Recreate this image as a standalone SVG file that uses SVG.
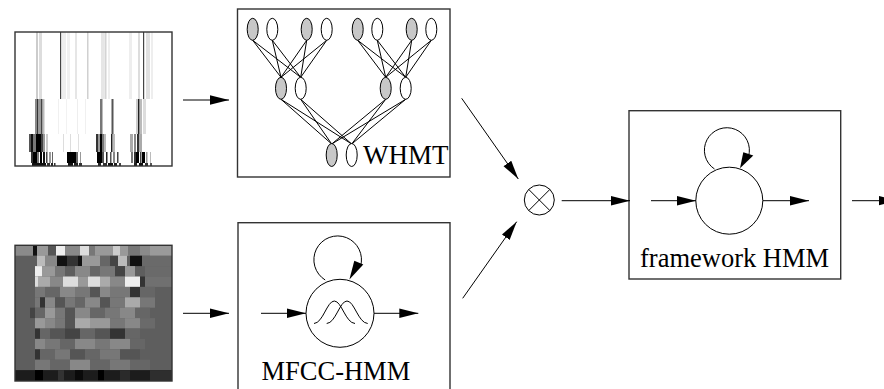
<svg xmlns="http://www.w3.org/2000/svg" width="884" height="389" viewBox="0 0 884 389">
<style>
.box{fill:none;stroke:#333;stroke-width:1.4}
.ln{fill:none;stroke:#000;stroke-width:1}
.arr{fill:none;stroke:#000;stroke-width:1;marker-end:url(#ah)}
.en{fill:#fff;stroke:#000;stroke-width:1}
.eg{fill:#c8c8c8;stroke:#000;stroke-width:1}
.lbl{font-family:"Liberation Serif","Times New Roman",serif;font-size:26.5px;fill:#000}
</style>
<defs>
<marker id="ah" markerUnits="userSpaceOnUse" markerWidth="20" markerHeight="10" refX="19" refY="5" orient="auto">
<path d="M0,0.3 L19,5 L0,9.7 z" fill="#000"/>
</marker>
</defs>
<rect width="884" height="389" fill="#fff"/>

<g id="wavelet-image">
<rect x="15" y="32" width="157" height="134" fill="#fff"/>
<g>
<rect x="36" y="32" width="2" height="67" fill="#ccc"/>
<rect x="39" y="32" width="3" height="67" fill="#ddd"/>
<rect x="60" y="32" width="1.2" height="67" fill="#444"/>
<rect x="62" y="32" width="4" height="67" fill="#eee"/>
<rect x="67" y="32" width="3" height="67" fill="#f0f0f0"/>
<rect x="75" y="32" width="2" height="67" fill="#e6e6e6"/>
<rect x="87" y="32" width="1.5" height="67" fill="#d0d0d0"/>
<rect x="101" y="32" width="3" height="67" fill="#e6e6e6"/>
<rect x="104.5" y="32" width="2" height="67" fill="#d4d4d4"/>
<rect x="108" y="32" width="2" height="67" fill="#eee"/>
<rect x="129" y="32" width="3" height="67" fill="#eee"/>
<rect x="138" y="32" width="2" height="67" fill="#ddd"/>
<rect x="143" y="32" width="1.2" height="72" fill="#444"/>
<rect x="146" y="32" width="4" height="67" fill="#e0e0e0"/>
<rect x="151" y="32" width="2" height="67" fill="#eee"/>
</g>
<g>
<rect x="35" y="99" width="2" height="35" fill="#888"/>
<rect x="37" y="99" width="1.5" height="35" fill="#333"/>
<rect x="39" y="99" width="2" height="35" fill="#999"/>
<rect x="41" y="99" width="1.5" height="35" fill="#444"/>
<rect x="43" y="99" width="1.5" height="35" fill="#bbb"/>
<rect x="58" y="99" width="1" height="35" fill="#f0f0f0"/>
<rect x="66" y="99" width="1" height="35" fill="#f2f2f2"/>
<rect x="77" y="99" width="1" height="35" fill="#eee"/>
<rect x="85" y="99" width="1" height="35" fill="#f0f0f0"/>
<rect x="100" y="99" width="2" height="35" fill="#777"/>
<rect x="102" y="99" width="1" height="35" fill="#bbb"/>
<rect x="111.5" y="99" width="1.5" height="35" fill="#555"/>
<rect x="113" y="99" width="1" height="35" fill="#aaa"/>
<rect x="136" y="99" width="2" height="35" fill="#ccc"/>
<rect x="138" y="99" width="1.5" height="35" fill="#222"/>
<rect x="140" y="99" width="2" height="35" fill="#bbb"/>
<rect x="143" y="99" width="3" height="35" fill="#ddd"/>
</g>
<g>
<rect x="29" y="134" width="2" height="18" fill="#555"/>
<rect x="31" y="134" width="2" height="18" fill="#111"/>
<rect x="33" y="134" width="3" height="18" fill="#777"/>
<rect x="36" y="134" width="5" height="18" fill="#000"/>
<rect x="41" y="134" width="2" height="18" fill="#444"/>
<rect x="43" y="134" width="2" height="18" fill="#999"/>
<rect x="46" y="134" width="2" height="18" fill="#ccc"/>
<rect x="63" y="134" width="1" height="18" fill="#ddd"/>
<rect x="70" y="134" width="1" height="18" fill="#ddd"/>
<rect x="78" y="134" width="1" height="18" fill="#e0e0e0"/>
<rect x="96" y="134" width="2" height="18" fill="#333"/>
<rect x="98" y="134" width="2" height="18" fill="#999"/>
<rect x="100" y="134" width="2" height="18" fill="#000"/>
<rect x="102" y="134" width="2" height="18" fill="#777"/>
<rect x="104" y="134" width="2" height="18" fill="#bbb"/>
<rect x="111" y="134" width="1.5" height="18" fill="#222"/>
<rect x="113" y="134" width="2" height="18" fill="#bbb"/>
<rect x="130" y="134" width="3" height="18" fill="#aaa"/>
<rect x="134" y="134" width="2" height="18" fill="#888"/>
<rect x="137" y="134" width="2" height="18" fill="#333"/>
<rect x="139" y="134" width="3" height="18" fill="#aaa"/>
</g>
<g>
<rect x="31" y="152" width="2" height="11" fill="#333"/>
<rect x="33" y="152" width="4" height="11" fill="#000"/>
<rect x="37" y="152" width="2" height="11" fill="#777"/>
<rect x="40" y="152" width="2" height="11" fill="#000"/>
<rect x="43" y="152" width="2" height="11" fill="#111"/>
<rect x="46" y="152" width="1.5" height="11" fill="#444"/>
<rect x="49" y="152" width="2" height="11" fill="#999"/>
<rect x="52" y="152" width="1" height="11" fill="#666"/>
<rect x="67" y="152" width="9" height="11" fill="#000"/>
<rect x="76" y="152" width="2" height="11" fill="#666"/>
<rect x="80" y="152" width="1" height="11" fill="#999"/>
<rect x="97" y="152" width="5" height="11" fill="#000"/>
<rect x="102" y="152" width="2" height="11" fill="#555"/>
<rect x="106" y="152" width="1.5" height="11" fill="#222"/>
<rect x="110" y="152" width="1.5" height="11" fill="#555"/>
<rect x="113" y="152" width="2" height="11" fill="#888"/>
<rect x="117" y="152" width="1.5" height="11" fill="#444"/>
<rect x="131" y="152" width="2" height="11" fill="#777"/>
<rect x="134" y="152" width="2" height="11" fill="#333"/>
<rect x="136" y="152" width="3" height="11" fill="#000"/>
<rect x="140" y="152" width="1.5" height="11" fill="#444"/>
<rect x="142" y="152" width="3" height="11" fill="#000"/>
<rect x="146" y="152" width="1.5" height="11" fill="#999"/>
<rect x="150" y="152" width="1" height="11" fill="#bbb"/>
</g>
<g>
<rect x="32" y="163" width="14" height="3" fill="#111"/>
<rect x="47" y="163" width="3" height="3" fill="#333"/>
<rect x="51" y="163" width="2" height="3" fill="#222"/>
<rect x="54" y="163" width="1.5" height="3" fill="#333"/>
<rect x="68" y="163" width="5" height="3" fill="#111"/>
<rect x="74" y="163" width="4" height="3" fill="#222"/>
<rect x="79" y="163" width="3" height="3" fill="#333"/>
<rect x="98" y="163" width="3" height="3" fill="#222"/>
<rect x="103" y="163" width="4" height="3" fill="#333"/>
<rect x="108" y="163" width="5" height="3" fill="#111"/>
<rect x="114" y="163" width="3" height="3" fill="#222"/>
<rect x="119" y="163" width="2" height="3" fill="#444"/>
<rect x="134" y="163" width="3" height="3" fill="#222"/>
<rect x="139" y="163" width="4" height="3" fill="#111"/>
<rect x="145" y="163" width="3" height="3" fill="#333"/>
<rect x="150" y="163" width="2" height="3" fill="#555"/>
</g>
<rect x="15" y="32" width="157" height="134" class="box"/>
</g>

<g id="mfcc-image">
<rect x="15" y="245.3" width="157" height="135.7" fill="#5e5e5e"/>
<g>
<rect x="15" y="245.3" width="157" height="10.4" fill="#8a8a8a"/>
<rect x="33" y="245.3" width="4" height="10.4" fill="#111"/>
<rect x="37" y="245.3" width="11" height="10.4" fill="#999"/>
<rect x="48" y="245.3" width="8" height="10.4" fill="#555"/>
<rect x="56" y="245.3" width="9" height="10.4" fill="#eee"/>
<rect x="65" y="245.3" width="15" height="10.4" fill="#888"/>
<rect x="80" y="245.3" width="9" height="10.4" fill="#ddd"/>
<rect x="89" y="245.3" width="6" height="10.4" fill="#777"/>
<rect x="95" y="245.3" width="18" height="10.4" fill="#999"/>
<rect x="113" y="245.3" width="7" height="10.4" fill="#ccc"/>
<rect x="120" y="245.3" width="8" height="10.4" fill="#999"/>
<rect x="128" y="245.3" width="12" height="10.4" fill="#777"/>
<rect x="150" y="245.3" width="22" height="10.4" fill="#9a9a9a"/>
</g>
<g>
<rect x="37" y="255.7" width="8" height="10.4" fill="#bbb"/>
<rect x="45" y="255.7" width="12" height="10.4" fill="#888"/>
<rect x="57" y="255.7" width="10" height="10.4" fill="#111"/>
<rect x="67" y="255.7" width="11" height="10.4" fill="#333"/>
<rect x="78" y="255.7" width="4" height="10.4" fill="#111"/>
<rect x="82" y="255.7" width="18" height="10.4" fill="#999"/>
<rect x="100" y="255.7" width="10" height="10.4" fill="#666"/>
<rect x="110" y="255.7" width="8" height="10.4" fill="#444"/>
<rect x="118" y="255.7" width="9" height="10.4" fill="#bbb"/>
<rect x="130" y="255.7" width="12" height="10.4" fill="#111"/>
<rect x="142" y="255.7" width="30" height="10.4" fill="#6a6a6a"/>
</g>
<g>
<rect x="35" y="266.1" width="7" height="10.4" fill="#eee"/>
<rect x="42" y="266.1" width="13" height="10.4" fill="#999"/>
<rect x="55" y="266.1" width="10" height="10.4" fill="#777"/>
<rect x="75" y="266.1" width="15" height="10.4" fill="#888"/>
<rect x="90" y="266.1" width="10" height="10.4" fill="#666"/>
<rect x="100" y="266.1" width="15" height="10.4" fill="#777"/>
<rect x="115" y="266.1" width="10" height="10.4" fill="#444"/>
<rect x="125" y="266.1" width="10" height="10.4" fill="#999"/>
<rect x="145" y="266.1" width="27" height="10.4" fill="#6a6a6a"/>
</g>
<g>
<rect x="35" y="276.5" width="3" height="10.4" fill="#ddd"/>
<rect x="38" y="276.5" width="12" height="10.4" fill="#aaa"/>
<rect x="50" y="276.5" width="13" height="10.4" fill="#888"/>
<rect x="63" y="276.5" width="15" height="10.4" fill="#ddd"/>
<rect x="78" y="276.5" width="10" height="10.4" fill="#999"/>
<rect x="88" y="276.5" width="12" height="10.4" fill="#ddd"/>
<rect x="100" y="276.5" width="10" height="10.4" fill="#aaa"/>
<rect x="110" y="276.5" width="15" height="10.4" fill="#888"/>
<rect x="125" y="276.5" width="15" height="10.4" fill="#eee"/>
<rect x="140" y="276.5" width="5" height="10.4" fill="#333"/>
<rect x="145" y="276.5" width="27" height="10.4" fill="#707070"/>
</g>
<g>
<rect x="35" y="286.9" width="10" height="10.4" fill="#777"/>
<rect x="45" y="286.9" width="15" height="10.4" fill="#666"/>
<rect x="60" y="286.9" width="15" height="10.4" fill="#888"/>
<rect x="75" y="286.9" width="15" height="10.4" fill="#777"/>
<rect x="90" y="286.9" width="10" height="10.4" fill="#555"/>
<rect x="100" y="286.9" width="10" height="10.4" fill="#888"/>
<rect x="110" y="286.9" width="20" height="10.4" fill="#777"/>
<rect x="130" y="286.9" width="10" height="10.4" fill="#333"/>
<rect x="140" y="286.9" width="15" height="10.4" fill="#666"/>
</g>
<g>
<rect x="35" y="297.3" width="5" height="10.4" fill="#777"/>
<rect x="40" y="297.3" width="5" height="10.4" fill="#333"/>
<rect x="45" y="297.3" width="10" height="10.4" fill="#888"/>
<rect x="55" y="297.3" width="10" height="10.4" fill="#555"/>
<rect x="65" y="297.3" width="10" height="10.4" fill="#777"/>
<rect x="75" y="297.3" width="10" height="10.4" fill="#666"/>
<rect x="85" y="297.3" width="15" height="10.4" fill="#888"/>
<rect x="100" y="297.3" width="10" height="10.4" fill="#555"/>
<rect x="110" y="297.3" width="15" height="10.4" fill="#777"/>
<rect x="125" y="297.3" width="15" height="10.4" fill="#aaa"/>
<rect x="140" y="297.3" width="15" height="10.4" fill="#777"/>
</g>
<g>
<rect x="30" y="307.7" width="5" height="10.4" fill="#444"/>
<rect x="35" y="307.7" width="10" height="10.4" fill="#666"/>
<rect x="45" y="307.7" width="10" height="10.4" fill="#999"/>
<rect x="55" y="307.7" width="10" height="10.4" fill="#777"/>
<rect x="65" y="307.7" width="10" height="10.4" fill="#555"/>
<rect x="75" y="307.7" width="15" height="10.4" fill="#888"/>
<rect x="90" y="307.7" width="15" height="10.4" fill="#666"/>
<rect x="105" y="307.7" width="15" height="10.4" fill="#777"/>
<rect x="120" y="307.7" width="15" height="10.4" fill="#888"/>
<rect x="135" y="307.7" width="15" height="10.4" fill="#666"/>
</g>
<g>
<rect x="35" y="318.1" width="10" height="10.4" fill="#999"/>
<rect x="45" y="318.1" width="10" height="10.4" fill="#888"/>
<rect x="55" y="318.1" width="10" height="10.4" fill="#777"/>
<rect x="65" y="318.1" width="10" height="10.4" fill="#555"/>
<rect x="75" y="318.1" width="15" height="10.4" fill="#aaa"/>
<rect x="90" y="318.1" width="20" height="10.4" fill="#999"/>
<rect x="110" y="318.1" width="15" height="10.4" fill="#777"/>
<rect x="125" y="318.1" width="15" height="10.4" fill="#888"/>
<rect x="140" y="318.1" width="15" height="10.4" fill="#6a6a6a"/>
</g>
<g>
<rect x="35" y="328.5" width="5" height="10.4" fill="#333"/>
<rect x="40" y="328.5" width="10" height="10.4" fill="#666"/>
<rect x="50" y="328.5" width="15" height="10.4" fill="#555"/>
<rect x="65" y="328.5" width="15" height="10.4" fill="#444"/>
<rect x="80" y="328.5" width="15" height="10.4" fill="#666"/>
<rect x="95" y="328.5" width="15" height="10.4" fill="#555"/>
<rect x="110" y="328.5" width="15" height="10.4" fill="#333"/>
<rect x="125" y="328.5" width="15" height="10.4" fill="#666"/>
</g>
<g>
<rect x="35" y="338.9" width="10" height="10.4" fill="#888"/>
<rect x="45" y="338.9" width="15" height="10.4" fill="#777"/>
<rect x="60" y="338.9" width="15" height="10.4" fill="#666"/>
<rect x="75" y="338.9" width="20" height="10.4" fill="#888"/>
<rect x="95" y="338.9" width="15" height="10.4" fill="#777"/>
<rect x="110" y="338.9" width="20" height="10.4" fill="#888"/>
<rect x="130" y="338.9" width="15" height="10.4" fill="#666"/>
</g>
<g>
<rect x="35" y="349.3" width="5" height="10.4" fill="#333"/>
<rect x="40" y="349.3" width="15" height="10.4" fill="#666"/>
<rect x="55" y="349.3" width="15" height="10.4" fill="#777"/>
<rect x="70" y="349.3" width="15" height="10.4" fill="#555"/>
<rect x="85" y="349.3" width="15" height="10.4" fill="#666"/>
<rect x="100" y="349.3" width="20" height="10.4" fill="#777"/>
<rect x="120" y="349.3" width="20" height="10.4" fill="#555"/>
</g>
<g>
<rect x="35" y="359.7" width="15" height="10.4" fill="#777"/>
<rect x="50" y="359.7" width="20" height="10.4" fill="#666"/>
<rect x="70" y="359.7" width="20" height="10.4" fill="#888"/>
<rect x="90" y="359.7" width="20" height="10.4" fill="#666"/>
<rect x="110" y="359.7" width="20" height="10.4" fill="#777"/>
<rect x="130" y="359.7" width="20" height="10.4" fill="#666"/>
</g>
<g>
<rect x="15" y="370.1" width="157" height="10.9" fill="#1c1c1c"/>
<rect x="35" y="370.1" width="8" height="10.9" fill="#000"/>
<rect x="58" y="370.1" width="6" height="10.9" fill="#333"/>
<rect x="75" y="370.1" width="8" height="10.9" fill="#0a0a0a"/>
<rect x="98" y="370.1" width="6" height="10.9" fill="#000"/>
<rect x="120" y="370.1" width="10" height="10.9" fill="#2a2a2a"/>
<rect x="150" y="370.1" width="22" height="10.9" fill="#2e2e2e"/>
</g>
<rect x="15" y="245.3" width="157" height="135.7" class="box"/>
</g>

<g id="whmt">
<rect x="237.5" y="9" width="212.5" height="168" class="box"/>
<g class="ln">
<path d="M252.7,40.3 L281,77.3 M252.7,40.3 L300.7,77.3 M272.3,40.3 L281,77.3 M272.3,40.3 L300.7,77.3 M306.7,40.3 L281,77.3 M306.7,40.3 L300.7,77.3 M326.7,40.3 L281,77.3 M326.7,40.3 L300.7,77.3"/>
<path d="M357.7,40.3 L385.7,77.3 M357.7,40.3 L405.7,77.3 M377.3,40.3 L385.7,77.3 M377.3,40.3 L405.7,77.3 M411.7,40.3 L385.7,77.3 M411.7,40.3 L405.7,77.3 M431.3,40.3 L385.7,77.3 M431.3,40.3 L405.7,77.3"/>
<path d="M281,99.3 L331.7,144 M281,99.3 L351.7,144 M300.7,99.3 L331.7,144 M300.7,99.3 L351.7,144 M385.7,99.3 L331.7,144 M385.7,99.3 L351.7,144 M405.7,99.3 L331.7,144 M405.7,99.3 L351.7,144"/>
</g>
<ellipse cx="252.7" cy="29.3" rx="5.5" ry="11" class="eg"/>
<ellipse cx="272.3" cy="29.3" rx="5.5" ry="11" class="en"/>
<ellipse cx="306.7" cy="29.3" rx="5.5" ry="11" class="eg"/>
<ellipse cx="326.7" cy="29.3" rx="5.5" ry="11" class="en"/>
<ellipse cx="357.7" cy="29.3" rx="5.5" ry="11" class="eg"/>
<ellipse cx="377.3" cy="29.3" rx="5.5" ry="11" class="en"/>
<ellipse cx="411.7" cy="29.3" rx="5.5" ry="11" class="eg"/>
<ellipse cx="431.3" cy="29.3" rx="5.5" ry="11" class="en"/>
<ellipse cx="281" cy="88.3" rx="5.5" ry="11" class="eg"/>
<ellipse cx="300.7" cy="88.3" rx="5.5" ry="11" class="en"/>
<ellipse cx="385.7" cy="88.3" rx="5.5" ry="11" class="eg"/>
<ellipse cx="405.7" cy="88.3" rx="5.5" ry="11" class="en"/>
<ellipse cx="331.7" cy="155" rx="5.5" ry="11.5" class="eg"/>
<ellipse cx="351.7" cy="155" rx="5.5" ry="11.5" class="en"/>
<text x="363" y="163.5" class="lbl" style="font-size:27px">WHMT</text>
</g>

<g id="mfcc-hmm">
<rect x="238" y="222.7" width="212" height="175" class="box"/>
<path d="M325.2,280 A23.8,23.8 0 1 1 360.5,266.5" class="ln"/>
<path d="M354.3,260.8 L363.3,264.6 L349.4,279.6 z" fill="#000"/>
<circle cx="340" cy="313.3" r="34" class="en"/>
<path d="M314,323.5 C323,323 327,301 334.3,301 C341.6,301 345.6,323 355,323.5" class="ln"/>
<path d="M326.7,323.5 C335.7,323 339.7,301 347,301 C354.3,301 358.3,323 367.7,323.5" class="ln"/>
<text x="261.5" y="380" class="lbl">MFCC-HMM</text>
</g>

<g id="product">
<circle cx="539.3" cy="200" r="15" class="en"/>
<path d="M528.7,189.4 L549.9,210.6 M549.9,189.4 L528.7,210.6" class="ln"/>
</g>

<g id="framework-hmm">
<rect x="629" y="110.7" width="211.7" height="168.3" class="box"/>
<path d="M714.5,169 A22.5,22.5 0 1 1 748.5,156.5" class="ln"/>
<path d="M743.3,152.2 L753.3,155.5 L740,168.2 z" fill="#000"/>
<circle cx="729.3" cy="200.7" r="33.5" class="en"/>
<text x="640" y="267" class="lbl">framework HMM</text>
</g>

<g id="connectors">
<line x1="183" y1="100" x2="229" y2="100" class="arr"/>
<line x1="183" y1="313.3" x2="229" y2="313.3" class="arr"/>
<line x1="261" y1="313.3" x2="306" y2="313.3" class="arr"/>
<line x1="374" y1="313.3" x2="418.3" y2="313.3" class="arr"/>
<line x1="461.7" y1="98.3" x2="518.3" y2="179" class="arr"/>
<line x1="462.7" y1="298.3" x2="516.7" y2="221.7" class="arr"/>
<line x1="561.7" y1="200.7" x2="630" y2="200.7" class="arr"/>
<line x1="651" y1="200.7" x2="696" y2="200.7" class="arr"/>
<line x1="763" y1="200.7" x2="809" y2="200.7" class="arr"/>
<line x1="852" y1="200.7" x2="897.5" y2="200.7" class="arr"/>
</g>
</svg>
